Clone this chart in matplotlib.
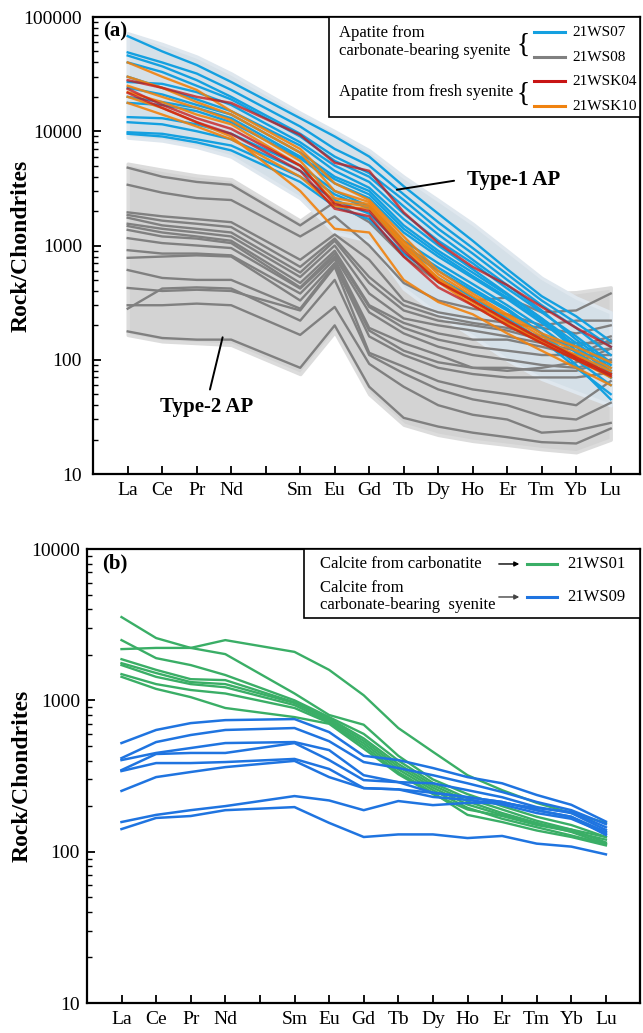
import numpy as np
import matplotlib.pyplot as plt
from matplotlib.patches import Rectangle
from matplotlib.ticker import FixedLocator, LogLocator, NullFormatter

plt.rcParams['font.family'] = ['Liberation Serif', 'DejaVu Serif']

# chondrite-normalised REE patterns; Pm keeps its slot on the axis but has no data
ree_axis = ['La', 'Ce', 'Pr', 'Nd', 'Pm', 'Sm', 'Eu', 'Gd', 'Tb', 'Dy', 'Ho', 'Er', 'Tm', 'Yb', 'Lu']
ree = [e for e in ree_axis if e != 'Pm']
xpos = [ree_axis.index(e) + 1 for e in ree]

# ---- (a) apatite ----
ws07 = [
    [68000, 50000, 38000, 27000, 13000, 9000, 6000, 3300, 1900, 1100, 620, 360, 240, 145],
    [49000, 40000, 32000, 23000, 11000, 7000, 5000, 2800, 1600, 950, 560, 330, 210, 130],
    [46000, 37000, 28000, 20000, 9500, 6000, 4300, 2500, 1400, 850, 500, 300, 190, 110],
    [40000, 33000, 25000, 19000, 9000, 5500, 4000, 2200, 1250, 750, 450, 270, 150, 90],
    [30000, 24000, 19000, 15000, 7500, 4500, 3200, 1700, 1000, 620, 380, 230, 130, 75],
    [27000, 26000, 22000, 17000, 8000, 5000, 3600, 1900, 1100, 700, 420, 260, 160, 95],
    [24000, 21000, 17000, 14000, 6500, 4000, 3000, 1500, 900, 580, 370, 230, 140, 85],
    [20000, 18000, 16000, 13000, 6000, 3800, 2800, 1400, 850, 540, 350, 220, 120, 70],
    [17700, 17000, 15000, 12000, 5800, 3500, 2600, 1300, 800, 520, 340, 210, 130, 80],
    [13300, 13000, 11500, 9500, 5000, 3000, 2200, 1100, 700, 460, 300, 190, 115, 70],
    [12000, 11500, 10000, 8500, 4500, 2800, 2100, 1000, 640, 420, 280, 170, 90, 45],
    [9800, 9500, 8500, 7500, 4000, 2500, 1900, 950, 600, 400, 270, 170, 100, 60],
    [9500, 9000, 8000, 6800, 3600, 2200, 1700, 850, 520, 350, 230, 150, 85, 50],
]
ws08 = [
    [4800, 4000, 3600, 3400, 1500, 2400, 1600, 800, 480, 330, 350, 260, 270, 380],
    [3400, 2900, 2600, 2500, 1200, 1800, 1000, 470, 330, 280, 250, 200, 220, 220],
    [1950, 1800, 1700, 1600, 750, 1250, 750, 330, 260, 230, 210, 190, 170, 200],
    [1850, 1650, 1550, 1450, 650, 1150, 530, 300, 240, 210, 190, 160, 130, 160],
    [1750, 1500, 1400, 1300, 580, 1100, 470, 270, 220, 200, 180, 150, 140, 140],
    [1550, 1400, 1300, 1200, 530, 1000, 380, 230, 200, 180, 160, 140, 120, 125],
    [1480, 1300, 1200, 1100, 470, 900, 300, 210, 170, 150, 150, 130, 110, 110],
    [1370, 1200, 1150, 1050, 430, 850, 290, 190, 150, 130, 120, 110, 110, 150],
    [1160, 1050, 1000, 950, 420, 800, 260, 170, 130, 110, 100, 90, 85, 100],
    [910, 850, 850, 820, 380, 760, 190, 140, 110, 85, 80, 85, 95, 125],
    [780, 800, 820, 800, 330, 700, 180, 120, 95, 85, 85, 80, 80, 100],
    [610, 520, 500, 500, 280, 680, 160, 110, 85, 75, 70, 70, 70, 77],
    [425, 400, 410, 400, 270, 650, 115, 87, 65, 55, 50, 45, 40, 65],
    [280, 420, 430, 420, 220, 500, 110, 76, 55, 45, 40, 32, 30, 42],
    [300, 300, 310, 300, 165, 290, 92, 58, 40, 33, 30, 23, 24, 28],
    [177, 155, 150, 150, 85, 200, 58, 31, 26, 23, 21, 19, 18.5, 25],
]
wsk04 = [
    [28000, 24000, 20000, 17700, 9300, 5300, 4500, 1950, 1050, 650, 450, 290, 190, 130],
    [23500, 17000, 13000, 10500, 5000, 2300, 2000, 900, 480, 330, 220, 150, 105, 75],
    [21700, 16000, 12000, 9500, 4500, 2100, 1800, 800, 430, 300, 200, 140, 100, 72],
]
wsk10 = [
    [40000, 30000, 23000, 15000, 7000, 3500, 2500, 1200, 600, 380, 250, 170, 130, 95],
    [30000, 24000, 18000, 14000, 6500, 3000, 2400, 1100, 560, 360, 240, 160, 120, 85],
    [25000, 20000, 16000, 12500, 5500, 2600, 2300, 1000, 520, 330, 220, 150, 110, 80],
    [22000, 18000, 14000, 11500, 5000, 2400, 2200, 1050, 500, 320, 210, 145, 105, 75],
    [20000, 16000, 12000, 9000, 3000, 1400, 1300, 500, 320, 250, 170, 120, 85, 60],
    [17700, 14000, 11000, 8500, 4000, 2200, 2100, 950, 480, 300, 200, 140, 100, 70],
]
# outlines of the two apatite types
type1_hi = [72000, 58000, 45000, 32000, 14500, 10000, 6800, 4000, 2500, 1550, 900, 520, 350, 260]
type1_lo = [8800, 8300, 7300, 6000, 2600, 1300, 1100, 420, 250, 160, 100, 68, 52, 40]
type2_hi = [5200, 4600, 4100, 3800, 1650, 2700, 2000, 800, 500, 420, 400, 380, 390, 430]
type2_lo = [165, 145, 140, 135, 75, 175, 50, 27, 22, 19.5, 18, 16.5, 15.5, 20]

# ---- (b) calcite ----
ws01 = [
    [3550, 2580, 2220, 2020, 1110, 800, 690, 430, 300, 240, 200, 170, 150, 125],
    [2180, 2220, 2220, 2500, 2090, 1590, 1080, 656, 457, 320, 255, 210, 180, 155],
    [2500, 1900, 1710, 1470, 1000, 775, 600, 400, 285, 225, 190, 160, 140, 115],
    [1870, 1590, 1380, 1360, 970, 760, 560, 380, 275, 215, 180, 155, 135, 112],
    [1760, 1515, 1320, 1280, 960, 740, 540, 365, 265, 205, 175, 152, 140, 125],
    [1710, 1430, 1280, 1220, 930, 720, 520, 350, 255, 195, 165, 145, 128, 112],
    [1490, 1280, 1170, 1110, 890, 710, 500, 335, 245, 175, 157, 138, 125, 110],
    [1430, 1190, 1050, 890, 775, 700, 480, 325, 240, 190, 172, 150, 136, 120],
]
ws09 = [
    [522, 637, 707, 740, 752, 617, 430, 403, 357, 311, 283, 237, 204, 158],
    [415, 530, 590, 637, 656, 537, 391, 357, 320, 283, 248, 213, 188, 152],
    [403, 449, 484, 522, 530, 469, 320, 288, 283, 255, 229, 197, 180, 139],
    [346, 442, 449, 449, 522, 403, 297, 288, 245, 229, 213, 188, 170, 129],
    [341, 385, 385, 391, 410, 352, 263, 258, 245, 229, 213, 188, 170, 135],
    [252, 311, 336, 362, 398, 311, 263, 258, 230, 220, 205, 180, 165, 132],
    [157, 175, 188, 200, 233, 218, 188, 216, 203, 210, 210, 194, 183, 145],
    [141, 167, 172, 188, 197, 155, 125, 130, 130, 123, 127, 113, 108, 96],
]

C_WS07 = '#14a0e0'
C_WS08 = '#808080'
C_WSK04 = '#c81414'
C_WSK10 = '#f0820f'
C_WS01 = '#3aae66'
C_WS09 = '#1f74e0'

fig = plt.figure(figsize=(6.43, 10.33), dpi=100)
ax1 = fig.add_axes([93.2 / 643, 1 - 474 / 1033, 546.8 / 643, 457 / 1033])
ax2 = fig.add_axes([86.9 / 643, 1 - 1003 / 1033, 553.1 / 643, 454 / 1033])


def style_axis(ax, ymin, ymax, xmax, ypad):
    ax.set_yscale('log')
    ax.set_ylim(ymin, ymax)
    ax.set_xlim(0, xmax)
    ax.xaxis.set_major_locator(FixedLocator(range(1, len(ree_axis) + 1)))
    ax.set_xticklabels(['' if e == 'Pm' else e for e in ree_axis])
    decades = [10 ** k for k in range(int(np.log10(ymin)), int(np.log10(ymax)) + 1)]
    ax.yaxis.set_major_locator(FixedLocator(decades))
    ax.set_yticklabels([str(d) for d in decades])
    ax.yaxis.set_minor_locator(LogLocator(base=10, subs=np.arange(2, 10)))
    ax.yaxis.set_minor_formatter(NullFormatter())
    ax.tick_params(axis='both', which='major', direction='in', length=6, width=1.3,
                   labelsize=14)
    ax.tick_params(axis='y', which='major', pad=ypad)
    ax.tick_params(axis='x', which='major', pad=6)
    ax.tick_params(axis='y', which='minor', direction='in', length=3.5, width=1)
    for s in ax.spines.values():
        s.set_linewidth(1.6)
    ax.set_ylabel('Rock/Chondrites', fontsize=17, fontweight='bold')


style_axis(ax1, 10, 100000, (640 - 93.2) / 34.5, 8)
style_axis(ax2, 10, 10000, (640 - 86.9) / 34.6, 5)
ax1.yaxis.set_label_coords(-0.112, 0.5)
ax2.yaxis.set_label_coords(-0.099, 0.5)

# fields of the two apatite types
ax1.fill_between(xpos, type2_lo, type2_hi, color='#d3d3d3', lw=2.5, ec='#dcdcdc', zorder=1)
ax1.fill_between(xpos, type1_lo, type1_hi, color='#d5e0e8', lw=2.5, ec='#dfe7ee', zorder=1.2)

for y in ws08:
    ax1.plot(xpos, y, color=C_WS08, lw=1.7, zorder=2)
for y in ws07:
    ax1.plot(xpos, y, color=C_WS07, lw=1.7, zorder=3)
for y in wsk10:
    ax1.plot(xpos, y, color=C_WSK10, lw=1.7, alpha=0.9, zorder=4)
for y in wsk04:
    ax1.plot(xpos, y, color=C_WSK04, lw=1.8, alpha=0.75, zorder=5)

ax1.annotate('', xy=(8.72, 3050), xytext=(10.54, 3720),
             arrowprops=dict(arrowstyle='-', color='k', lw=1.4), zorder=6)
ax1.text(10.83, 3720, 'Type-1 AP', fontsize=15, fontweight='bold', va='center', ha='left')
ax1.annotate('', xy=(3.77, 166), xytext=(3.365, 52),
             arrowprops=dict(arrowstyle='-', color='k', lw=1.4), zorder=6)
ax1.text(3.28, 38.5, 'Type-2 AP', fontsize=15, fontweight='bold', va='center', ha='center')

ax1.text(0.0174, 0.968, '(a)', transform=ax1.transAxes, fontsize=15, fontweight='bold',
         va='center', ha='left')

# legend box (a)
tr = ax1.transAxes
ax1.add_patch(Rectangle((0.431, 0.781), 0.569, 0.219, transform=tr, fc='white', ec='k',
                        lw=1.2, zorder=10))
lg = dict(transform=tr, fontsize=12, va='center', ha='left', zorder=11)
ax1.text(0.4495, 0.9643, 'Apatite from', **lg)
ax1.text(0.4495, 0.9263, 'carbonate-bearing syenite', **lg)
ax1.text(0.4495, 0.8365, 'Apatite from fresh syenite', **lg)
for yb in (0.9387, 0.8315):
    ax1.text(0.7855, yb, '{', transform=tr, fontsize=20, va='center', ha='center', zorder=11)
for yl, col, name in [(0.9665, C_WS07, '21WS07'), (0.9118, C_WS08, '21WS08'),
                      (0.8589, C_WSK04, '21WSK04'), (0.8042, C_WSK10, '21WSK10')]:
    ax1.plot([0.806, 0.862], [yl, yl], color=col, lw=2.2, transform=tr, zorder=11,
             clip_on=False)
    ax1.text(0.876, yl, name, transform=tr, fontsize=11, va='center', ha='left', zorder=11)

# ---- (b) ----
for y in ws01:
    ax2.plot(xpos, y, color=C_WS01, lw=1.7, zorder=3)
for y in ws09:
    ax2.plot(xpos, y, color=C_WS09, lw=1.8, zorder=4)

ax2.text(0.0273, 0.969, '(b)', transform=ax2.transAxes, fontsize=15, fontweight='bold',
         va='center', ha='left')

tr = ax2.transAxes
ax2.add_patch(Rectangle((0.3925, 0.848), 0.6075, 0.152, transform=tr, fc='white', ec='k',
                        lw=1.2, zorder=10))
lg = dict(transform=tr, fontsize=12, va='center', ha='left', zorder=11)
ax2.text(0.4214, 0.967, 'Calcite from carbonatite', **lg)
ax2.text(0.4214, 0.9141, 'Calcite from', **lg)
ax2.text(0.4214, 0.8767, 'carbonate-bearing  syenite', **lg)
for yl, col, acol, name in [(0.967, C_WS01, 'k', '21WS01'), (0.8943, C_WS09, '#444444', '21WS09')]:
    ax2.annotate('', xy=(0.7868, yl), xytext=(0.7397, yl), xycoords=tr, textcoords=tr,
                 arrowprops=dict(arrowstyle='-|>', color=acol, lw=1, mutation_scale=7),
                 zorder=11)
    ax2.plot([0.7957, 0.85], [yl, yl], color=col, lw=2.2, transform=tr, zorder=11,
             clip_on=False)
    ax2.text(0.868, yl, name, **lg)

fig.savefig('out.png', dpi=100)
